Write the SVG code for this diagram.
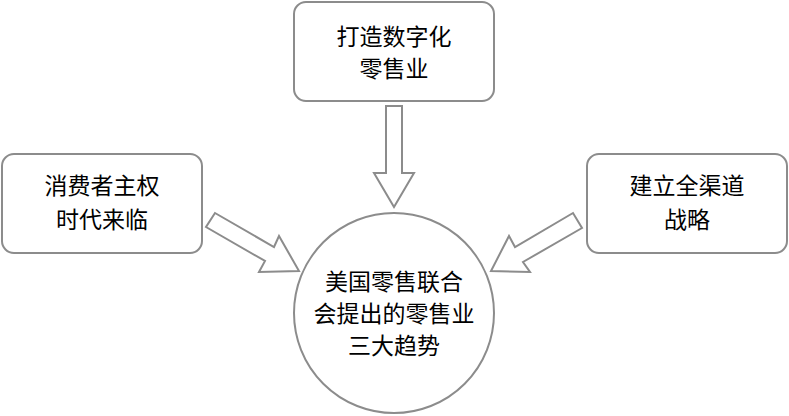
<svg xmlns="http://www.w3.org/2000/svg" width="789" height="416" viewBox="0 0 789 416">
<style>
.box{fill:#fff;stroke:#8c8c8c;stroke-width:2}
.arr{fill:#fff;stroke:#8c8c8c;stroke-width:2;stroke-linejoin:miter}
text{font-family:"Noto Sans CJK SC","Noto Sans",sans-serif;font-size:23px;fill:#000;text-anchor:middle}
</style>
<rect width="789" height="416" fill="#fff"/>
<g id="connectors">
<polygon class="arr" points="386,106 402,106 402,173 414,173 394,207 374,173 386,173"/>
<polygon class="arr" points="215,213 274,247 279,236 299,271 259,272 265,261 206,227"/>
<polygon class="arr" points="573,213 515,247 509,236 491,271 530,272 523,262 582,228"/>
</g>
<g id="top">
<rect class="box" x="294" y="2" width="200" height="99" rx="12"/>
<text x="394" y="45">打造数字化</text>
<text x="394" y="77">零售业</text>
</g>
<g id="left">
<rect class="box" x="2" y="154" width="200" height="99" rx="12"/>
<text x="102" y="194">消费者主权</text>
<text x="102" y="228">时代来临</text>
</g>
<g id="right">
<rect class="box" x="587" y="154" width="200" height="99" rx="12"/>
<text x="687" y="194">建立全渠道</text>
<text x="687" y="228">战略</text>
</g>
<g id="center">
<circle class="box" cx="394" cy="313" r="100"/>
<text x="394" y="290">美国零售联合</text>
<text x="394" y="322">会提出的零售业</text>
<text x="394" y="354">三大趋势</text>
</g>
</svg>
